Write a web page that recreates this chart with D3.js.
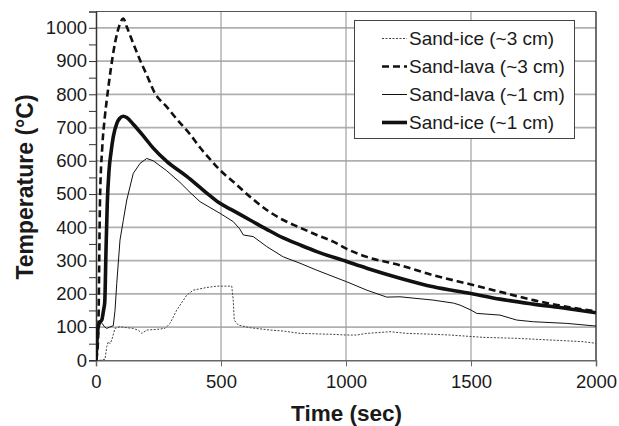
<!DOCTYPE html>
<html>
<head>
<meta charset="utf-8">
<script src="https://cdn.jsdelivr.net/npm/d3@7"></script>
<style>
  body { margin: 0; background: #fff; }
  svg { display: block; font-family: "Liberation Sans", Arial, sans-serif; }
</style>
</head>
<body>
<div id="chart"></div>
<script>
// Data: [time (sec), temperature (°C)]
let sandIce3 = [
  [0, 0], [16, 0], [36, 3], [43, 41], [49, 56], [56, 50], [63, 61], [76, 96], [96, 101],
  [123, 98], [149, 96], [170, 90], [183, 81], [203, 91], [243, 93], [276, 96], [296, 111],
  [323, 151], [363, 196], [389, 211], [443, 219], [483, 223], [543, 223], [549, 181],
  [553, 121], [569, 106], [616, 98], [696, 91], [749, 88], [816, 81], [949, 78], [1003, 76],
  [1043, 76], [1083, 81], [1176, 86], [1243, 81], [1323, 79], [1416, 76], [1549, 69],
  [1683, 66], [1816, 61], [1949, 56], [2000, 51]
];

let sandLava3 = [
  [0, 0], [3, 10], [9, 80], [16, 480], [25, 640], [35, 730], [43, 782], [60, 880], [76, 954],
  [95, 1010], [109, 1028], [123, 1003], [149, 953], [176, 903], [203, 858], [236, 803],
  [283, 762], [329, 720], [376, 680], [416, 640], [456, 605], [496, 572], [549, 537],
  [616, 492], [683, 452], [749, 422], [816, 399], [883, 377], [949, 357], [1003, 335],
  [1083, 311], [1216, 286], [1349, 256], [1500, 228], [1616, 206], [1749, 181], [1883, 161],
  [2000, 147]
];

let sandLava1 = [
  [0, 0], [5, 60], [9, 110], [16, 121], [25, 110], [35, 100], [43, 96], [55, 100], [69, 104],
  [76, 150], [83, 231], [96, 362], [109, 420], [123, 482], [149, 562], [176, 592], [203, 607],
  [229, 600], [256, 585], [283, 570], [336, 535], [376, 505], [416, 477], [496, 442],
  [549, 417], [575, 395], [589, 377], [629, 372], [683, 342], [749, 311], [816, 292],
  [883, 271], [1003, 236], [1083, 211], [1163, 190], [1216, 191], [1349, 181], [1430, 172],
  [1456, 166], [1500, 151], [1523, 141], [1616, 136], [1683, 121], [1749, 116], [1883, 111],
  [2000, 103]
];

let sandIce1 = [
  [0, 0], [4, 60], [9, 101], [16, 115], [23, 121], [30, 150], [35, 175], [40, 330], [45, 470],
  [52, 570], [60, 625], [69, 672], [83, 712], [95, 728], [109, 734], [123, 730], [149, 710],
  [189, 675], [229, 638], [283, 598], [363, 553], [416, 520], [456, 495], [496, 472],
  [549, 450], [616, 422], [683, 394], [749, 368], [816, 347], [883, 327], [1003, 297],
  [1083, 277], [1216, 247], [1349, 221], [1500, 201], [1616, 184], [1749, 169], [1883, 156],
  [2000, 143]
];

let xTicks = [0, 500, 1000, 1500, 2000];
let yTicks = [0, 100, 200, 300, 400, 500, 600, 700, 800, 900, 1000];
let yMinor = d3.range(0, 1050, 50);

let legendLabels = ['Sand-ice (~3 cm)', 'Sand-lava (~3 cm)', 'Sand-lava (~1 cm)', 'Sand-ice (~1 cm)'];

// Sizes
let width = 619, height = 426;
let plotLeft = 96, plotRight = 596, plotTop = 11.5, plotBottom = 360.3;

let svg = d3.select('#chart')
  .append('svg')
  .attr('width', width)
  .attr('height', height);

let x = d3.scaleLinear().domain([0, 2000]).range([plotLeft, plotRight]);
let y = d3.scaleLinear().domain([0, 1049]).range([plotBottom, plotTop]);

// Gridlines
svg.append('g')
  .selectAll('line')
  .data(yTicks.slice(1))
  .enter()
  .append('line')
  .attr('x1', plotLeft).attr('x2', plotRight)
  .attr('y1', d => y(d)).attr('y2', d => y(d))
  .attr('stroke', '#b0b0b0')
  .attr('stroke-width', 1.7);

svg.append('g')
  .selectAll('line')
  .data(xTicks.slice(1, -1))
  .enter()
  .append('line')
  .attr('x1', d => x(d)).attr('x2', d => x(d))
  .attr('y1', plotTop).attr('y2', plotBottom)
  .attr('stroke', '#a0a0a0')
  .attr('stroke-width', 1.2);

// Frame
svg.append('line')
  .attr('x1', plotLeft).attr('x2', plotRight).attr('y1', plotTop).attr('y2', plotTop)
  .attr('stroke', '#555').attr('stroke-width', 1.2);
svg.append('line')
  .attr('x1', plotRight).attr('x2', plotRight).attr('y1', plotTop).attr('y2', plotBottom)
  .attr('stroke', '#333').attr('stroke-width', 1.4);

// Axes
let yAxis = d3.axisLeft(y).tickValues(yMinor).tickSize(7).tickFormat(d => yTicks.includes(d) ? d : '');
let gy = svg.append('g')
  .attr('transform', `translate(${plotLeft},0)`)
  .call(yAxis);
gy.select('.domain').attr('stroke', '#333').attr('stroke-width', 1.5);
gy.selectAll('.tick line').attr('stroke', '#333');
gy.selectAll('.tick text')
  .attr('font-size', 18.5)
  .attr('fill', '#1a1a1a')
  .attr('x', -9)
  .attr('font-family', '"Liberation Sans", Arial, sans-serif');

let xAxis = d3.axisBottom(x).tickValues(xTicks).tickSize(6).tickFormat(d3.format('d'));
let gx = svg.append('g')
  .attr('transform', `translate(0,${plotBottom})`)
  .call(xAxis);
gx.select('.domain').attr('stroke', '#666').attr('stroke-width', 1.5);
gx.selectAll('.tick line').attr('stroke', '#666');
gx.selectAll('.tick text')
  .attr('font-size', 18.5)
  .attr('fill', '#1a1a1a')
  .attr('y', 15)
  .attr('font-family', '"Liberation Sans", Arial, sans-serif');

// Axis titles
svg.append('text')
  .attr('x', 346.5)
  .attr('y', 421)
  .attr('text-anchor', 'middle')
  .attr('font-size', 22.5)
  .attr('font-weight', 'bold')
  .attr('fill', '#1a1a1a')
  .text('Time (sec)');

svg.append('text')
  .attr('transform', `translate(33,187) rotate(-90)`)
  .attr('text-anchor', 'middle')
  .attr('font-size', 23)
  .attr('font-weight', 'bold')
  .attr('fill', '#1a1a1a')
  .text('Temperature (°C)');

// Lines
let series = [
  { data: sandIce3, color: '#444', width: 1, dash: '2,1.5', curve: d3.curveLinear },
  { data: sandLava3, color: '#111', width: 2.6, dash: '7,4', curve: d3.curveMonotoneX },
  { data: sandLava1, color: '#111', width: 1, dash: null, curve: d3.curveLinear },
  { data: sandIce1, color: '#111', width: 3.6, dash: null, curve: d3.curveMonotoneX }
];

svg.append('clipPath').attr('id', 'plot-clip')
  .append('rect')
  .attr('x', plotLeft).attr('y', plotTop)
  .attr('width', plotRight - plotLeft).attr('height', plotBottom - plotTop + 2);

let lines = svg.append('g').attr('clip-path', 'url(#plot-clip)');

series.forEach(s => {
  let line = d3.line()
    .x(d => x(d[0]))
    .y(d => y(d[1]))
    .curve(s.curve);
  lines.append('path')
    .datum(s.data)
    .attr('d', line)
    .attr('fill', 'none')
    .attr('stroke', s.color)
    .attr('stroke-width', s.width)
    .attr('stroke-dasharray', s.dash)
    .attr('stroke-linejoin', 'round');
});

// Legend
let legend = svg.append('g');
legend.append('rect')
  .attr('x', 354.5).attr('y', 20.5)
  .attr('width', 220).attr('height', 118)
  .attr('fill', '#fff')
  .attr('stroke', '#444')
  .attr('stroke-width', 1);

legendLabels.forEach((label, i) => {
  let s = series[i];
  let by = 45 + i * 28;
  legend.append('line')
    .attr('x1', 382).attr('x2', 407)
    .attr('y1', by - 6.5).attr('y2', by - 6.5)
    .attr('stroke', s.color)
    .attr('stroke-width', s.width)
    .attr('stroke-dasharray', s.dash);
  legend.append('text')
    .attr('x', 409)
    .attr('y', by)
    .attr('font-size', 19)
    .attr('fill', '#1a1a1a')
    .text(label);
});
</script>
</body>
</html>
